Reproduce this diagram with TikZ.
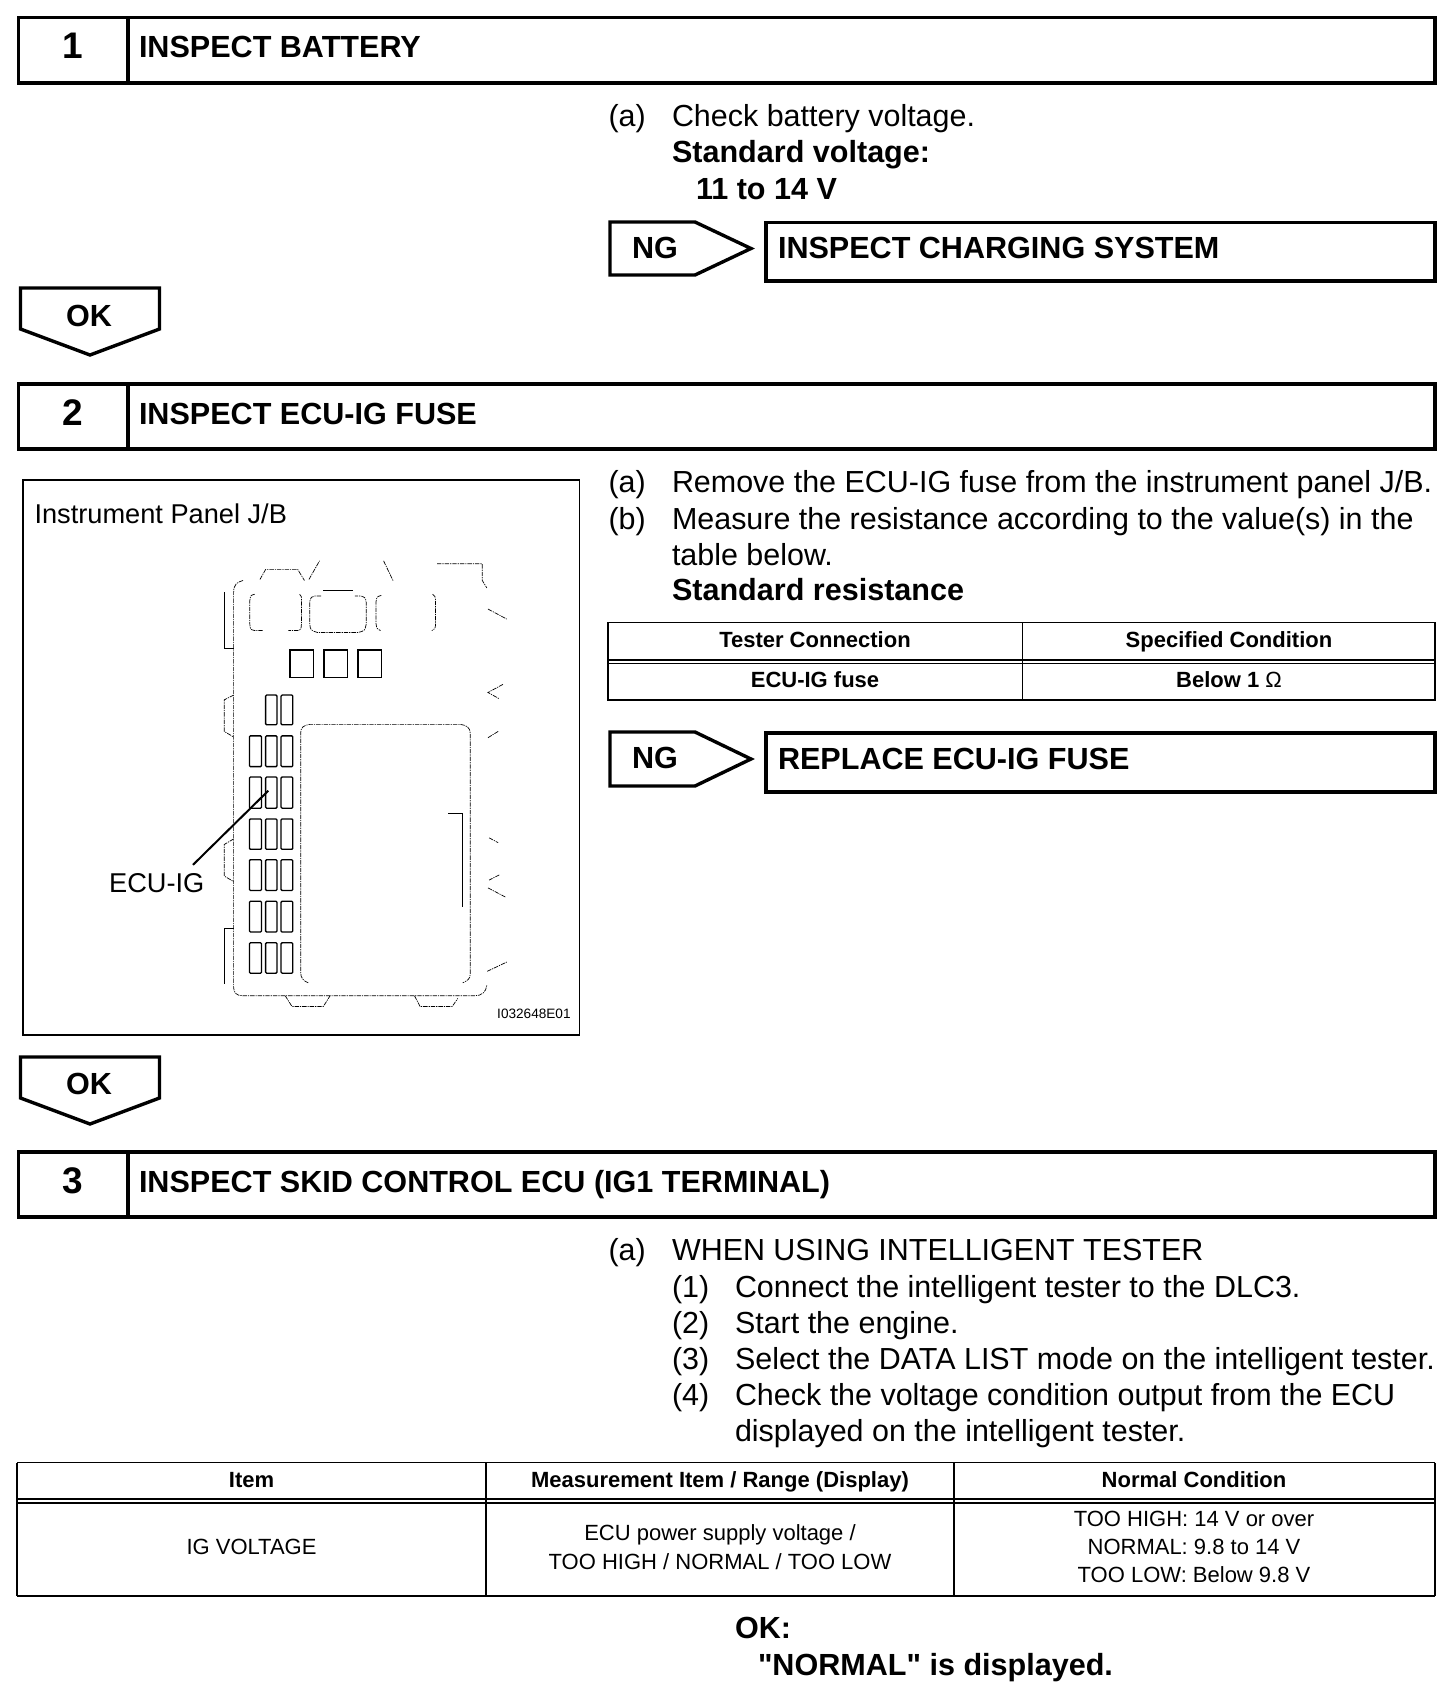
\documentclass[tikz,border=0pt]{standalone}
\usepackage{fontspec}
\setmainfont[Ligatures=TeXOff]{Liberation Sans}
\tikzset{
  txt/.style={anchor=base west,inner sep=0pt,outer sep=0pt,font=\fontsize{15.23}{18}\selectfont},
  txtb/.style={txt,font=\fontsize{15.28}{18}\selectfont\bfseries},
  num/.style={anchor=base,inner sep=0pt,font=\fontsize{18.5}{20}\selectfont\bfseries},
  th/.style={anchor=base,inner sep=0pt,font=\fontsize{11}{13}\selectfont\bfseries},
  td/.style={anchor=base,inner sep=0pt,font=\fontsize{11}{13}\selectfont},
  heavy/.style={line width=1.7pt,line join=miter},
  tbl/.style={line width=0.75pt},
  fig/.style={line width=0.35pt,dash pattern=on 2.2pt off 0.5pt on 0.6pt off 0.5pt},
  solidfig/.style={line width=0.4pt},
  fuse/.style={line width=0.65pt,rounded corners=0.5pt},
}
\newcommand{\headerbox}[6]{% y1 y2 num-base text-base num text
  \draw[heavy] (18.5,#1) rectangle (1435,#2);
  \draw[heavy] (128,#1) -- (128,#2);
  \node[num] (n#5) at (73,#3) {#5};
  \node[txtb] (h#5) at (139,#4) {#6};
}
\newcommand{\okarrow}[2]{% top, baseline
  \draw[heavy] (20.5,#1) -- (159.5,#1) -- (159.5,#1+41) -- (90,#1+67) -- (20.5,#1+41) -- cycle;
  \node[txtb] (ok#1) at (66,#2) {OK};
}
\newcommand{\ngarrow}[3]{% top, bottom, base
  \draw[heavy] (610,#1) -- (695,#1) -- (751,{(#1+#2)/2}) -- (695,#2) -- (610,#2) -- cycle;
  \node[txtb] (ng#1) at (632,#3) {NG};
}
\begin{document}
\begin{tikzpicture}[x=0.5pt,y=-0.5pt]
\useasboundingbox (0,0) rectangle (1456,1688);
\fill[white] (0,0) rectangle (1456,1688);

% --- Step 1
\headerbox{17.5}{83}{58}{57.5}{1}{INSPECT BATTERY}
\node[txt] (a1) at (608.5,126) {(a)};
\node[txt] (a1t) at (672,126) {Check battery voltage.};
\node[txtb] (sv) at (672,162) {Standard voltage:};
\node[txtb] (svv) at (696,199) {11 to 14 V};
\ngarrow{222}{275}{258}
\draw[heavy] (766,222.5) rectangle (1435,281);
\node[txtb] (ics) at (778,258) {INSPECT CHARGING SYSTEM};
\okarrow{288}{326}

% --- Step 2
\headerbox{384}{449}{425}{424}{2}{INSPECT ECU-IG FUSE}
\node[txt] (a2) at (608.5,492) {(a)};
\node[txt] (a2t) at (672,492) {Remove the ECU-IG fuse from the instrument panel J/B.};
\node[txt] (b2) at (608.5,529) {(b)};
\node[txt] (b2t) at (672,529) {Measure the resistance according to the value(s) in the};
\node[txt] (b2u) at (672,565) {table below.};
\node[txtb] (sr) at (672,600.5) {Standard resistance};

% table 1
\draw[tbl] (608,622.5) rectangle (1435,700);
\draw[tbl] (1022.5,622.5) -- (1022.5,700);
\draw[tbl] (608,660) -- (1435,660);
\draw[tbl] (608,663.5) -- (1435,663.5);
\node[th] (t11) at (815,647) {Tester Connection};
\node[th] (t12) at (1229,647) {Specified Condition};
\node[th] (t21) at (815,687) {ECU-IG fuse};
\node[th] (t22) at (1229,687) {Below 1 {\mdseries Ω}};

\ngarrow{732}{786}{768}
\draw[heavy] (766,733) rectangle (1435,792);
\node[txtb] (rep) at (778,769.5) {REPLACE ECU-IG FUSE};

% --- figure frame
\draw[line width=0.8pt] (23,480) rectangle (579.5,1035);
\node[txt,font=\fontsize{13.6}{15}\selectfont] (ipj) at (34.5,523) {Instrument Panel J/B};
\node[anchor=base east,inner sep=0pt,font=\fontsize{6.8}{8}\selectfont] (code) at (571,1018) {I032648E01};

\begin{scope}[x=0.1884pt,y=-0.1854pt,yshift=-235pt]
  % outline
  \draw[fig] (645,298) .. controls (628,302) and (620,310) .. (620,330) -- (620,1395) .. controls (620,1410) and (628,1418) .. (645,1418) -- (1260,1418) .. controls (1278,1418) and (1290,1408) .. (1292,1390);
  % top notches
  \draw[fig] (690,295) -- (705,268) -- (790,268) -- (808,298);
  \draw[fig] (820,295) -- (848,245);
  \draw[fig] (1018,245) -- (1043,298);
  \draw[fig] (1160,253) -- (1280,253) -- (1280,298) -- (1292,318);
  \draw[fig] (1295,375) -- (1345,402);
  % left tabs
  \draw[solidfig] (595,330) -- (595,482) -- (620,482);
  \draw[fig] (620,607) -- (595,620) -- (595,705) -- (620,720);
  \draw[fig] (620,995) -- (595,1010) -- (595,1095) -- (620,1110);
  \draw[solidfig] (620,1235) -- (595,1235) -- (595,1385);
  % connectors
  \draw[fig] (676,335) .. controls (665,338) .. (663,352) -- (663,415) .. controls (664,430) .. (676,433) -- (697,433);
  \draw[fig] (795,335) .. controls (800,340) .. (800,352) -- (800,415) .. controls (799,430) .. (790,433) -- (765,433);
  \draw[solidfig] (858,326) -- (938,326);
  \draw[fig] (852,340) -- (835,340) .. controls (826,342) .. (822,355) -- (822,415) .. controls (824,432) .. (842,438) -- (950,438) .. controls (968,434) .. (972,415) -- (972,358) .. controls (970,344) .. (958,340) -- (942,340);
  \draw[fig] (1012,338) .. controls (1000,342) .. (998,355) -- (998,415) .. controls (1000,428) .. (1010,433);
  \draw[fig] (1148,335) .. controls (1155,340) .. (1156,355) -- (1156,415) .. controls (1155,428) .. (1146,433);
  % relays
  \draw[line width=0.75pt] (770,485) rectangle (832,560);
  \draw[line width=0.75pt] (860,485) rectangle (922,560);
  \draw[line width=0.75pt] (950,485) rectangle (1012,560);
  % fuses
  \draw[fuse] (705,607) rectangle (735,687);
  \draw[fuse] (746,607) rectangle (777,687);
  \foreach \ya/\yb in {717/800,828/912,941/1023,1051/1134,1163/1246,1275/1357}{
    \draw[fuse] (662,\ya) rectangle (694,\yb);
    \draw[fuse] (705,\ya) rectangle (735,\yb);
    \draw[fuse] (746,\ya) rectangle (777,\yb);
  }
  % big block
  \draw[fig] (818,1383) .. controls (805,1378) and (798,1370) .. (798,1355) -- (798,708) .. controls (798,695) and (806,688) .. (822,686) -- (1222,686) .. controls (1238,688) and (1248,695) .. (1248,710) -- (1248,1360) .. controls (1248,1372) and (1240,1378) .. (1228,1383);
  \draw[solidfig] (1190,925) -- (1226,925) -- (1226,1178);
  % right marks
  \draw[fig] (1335,578) -- (1295,600) -- (1325,617);
  \draw[fig] (1295,722) -- (1322,705);
  \draw[fig] (1298,992) -- (1322,1005);
  \draw[fig] (1325,1092) -- (1298,1106);
  \draw[fig] (1295,1127) -- (1342,1152);
  \draw[fig] (1293,1352) -- (1345,1327);
  % bottom tabs
  \draw[fig] (757,1418) -- (775,1447) -- (858,1447) -- (876,1418);
  \draw[fig] (1100,1418) -- (1115,1447) -- (1200,1447) -- (1215,1425);
  % label and leader
  \coordinate (ecutip) at (712,865);
  \coordinate (ecufoot) at (512,1065);
  \node[anchor=base,inner sep=0pt,font=\fontsize{13.6}{15}\selectfont] (ecu) at (416,1140) {ECU-IG};
  \draw[line width=1pt] (ecufoot) -- (ecutip);
\end{scope}

\okarrow{1057}{1094.5}

% --- Step 3
\headerbox{1152}{1217}{1193}{1192.5}{3}{INSPECT SKID CONTROL ECU (IG1 TERMINAL)}
\node[txt] (a3) at (608.5,1260.5) {(a)};
\node[txt] (a3t) at (672,1260.5) {WHEN USING INTELLIGENT TESTER};
\node[txt] (s1) at (672,1297) {(1)};
\node[txt] (s1t) at (735,1297) {Connect the intelligent tester to the DLC3.};
\node[txt] (s2) at (672,1333) {(2)};
\node[txt] (s2t) at (735,1333) {Start the engine.};
\node[txt] (s3) at (672,1369) {(3)};
\node[txt] (s3t) at (735,1369) {Select the DATA LIST mode on the intelligent tester.};
\node[txt] (s4) at (672,1405) {(4)};
\node[txt] (s4t) at (735,1405) {Check the voltage condition output from the ECU};
\node[txt] (s4u) at (735,1441) {displayed on the intelligent tester.};

% table 2
\draw[line width=0.9pt] (17,1462.5) -- (1435,1462.5);
\draw[tbl] (17,1462.5) -- (17,1596);
\draw[tbl] (1435,1462.5) -- (1435,1596);
\draw[tbl] (17,1499) -- (1435,1499);
\draw[tbl] (17,1503) -- (1435,1503);
\draw[line width=1.3pt] (17,1596) -- (1435,1596);
\draw[tbl] (486,1462.5) -- (486,1596);
\draw[tbl] (954,1462.5) -- (954,1596);
\node[th] (c1) at (251.5,1487) {Item};
\node[th] (c2) at (720,1487) {Measurement Item / Range (Display)};
\node[th] (c3) at (1194,1487) {Normal Condition};
\node[td] (d1) at (251.5,1554.5) {IG VOLTAGE};
\node[td] (d2) at (720,1540.5) {ECU power supply voltage /};
\node[td] (d2b) at (720,1569) {TOO HIGH / NORMAL / TOO LOW};
\node[td] (d3) at (1194,1526.5) {TOO HIGH: 14 V or over};
\node[td] (d3b) at (1194,1554.5) {NORMAL: 9.8 to 14 V};
\node[td] (d3c) at (1194,1582.5) {TOO LOW: Below 9.8 V};

\node[txtb] (okf) at (735,1638) {OK:};
\node[txtb] (nd) at (758,1675) {"NORMAL" is displayed.};
\end{tikzpicture}
\end{document}
